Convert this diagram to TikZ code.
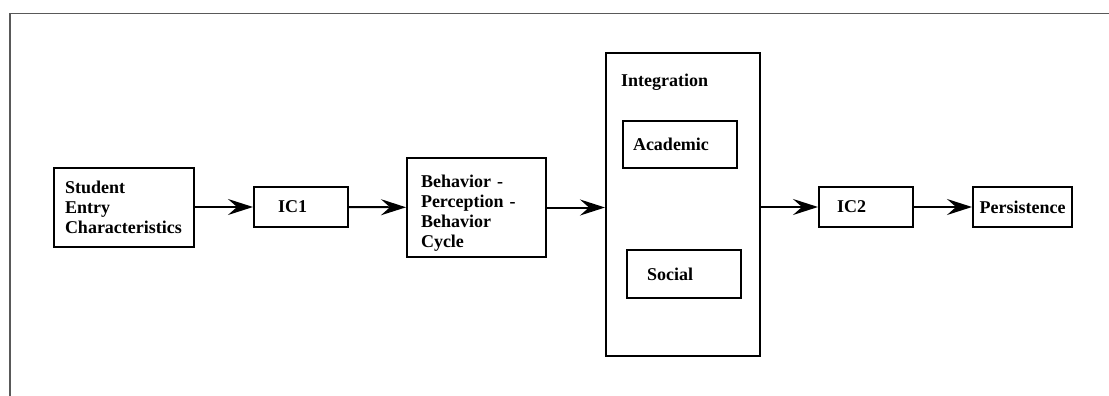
\documentclass[tikz,border=0pt]{standalone}
\usepackage{fontspec}
\setmainfont{Liberation Serif}
\usetikzlibrary{arrows.meta}
\tikzset{box/.style={draw, line width=2pt, inner sep=0pt,
      font=\bfseries\fontsize{18}{20}\selectfont}}
\tikzset{flow/.style={line width=2pt,
      -{Stealth[length=25pt,width=16pt,inset=9pt]}}}

\begin{document}
\begin{tikzpicture}[x=1pt,y=-1pt]
    \useasboundingbox (0,0) rectangle (1109,396);
    \draw[black!65, line width=1.3pt] (1109,13.5) -- (10,13.5) -- (10,396);
    \node[box, minimum width=140pt, minimum height=79pt, text width=118pt, align=left] (student) at (124,207) {Student\\Entry\\Characteristics};
    \node[box, minimum width=94pt, minimum height=40pt, text width=46pt, align=left] (ic1) at (301,207) {IC1};
    \node[box, minimum width=139pt, minimum height=99pt, text width=111pt, text height=24pt, align=left] (behav) at (476.5,207.5) {Behavior -\\Perception -\\Behavior\\Cycle};
    \node[box, minimum width=154pt, minimum height=303pt] (integ) at (683,204.5) {};
    \node[font=\bfseries\fontsize{18}{20}\selectfont, anchor=base west, inner sep=0pt] (integlabel) at (621,86) {Integration};
    \node[box, minimum width=114pt, minimum height=47pt, text width=94pt, align=left] (academic) at (680,144.5) {Academic};
    \node[box, minimum width=114pt, minimum height=48pt, text width=74pt, align=left] (social) at (684,274) {Social};
    \node[box, minimum width=94pt, minimum height=40pt, text width=58pt, align=left] (ic2) at (866,207) {IC2};
    \node[box, minimum width=99pt, minimum height=40pt] (persist) at (1022.5,207) {Persistence};
    \draw[flow] (student) -- (ic1);
    \draw[flow] (ic1) -- (behav);
    \draw[flow] (behav.east) -- (behav.east -| integ.west);
    \draw[flow] (integ.east |- ic2) -- (ic2);
    \draw[flow] (ic2) -- (persist);
\end{tikzpicture}
\end{document}
